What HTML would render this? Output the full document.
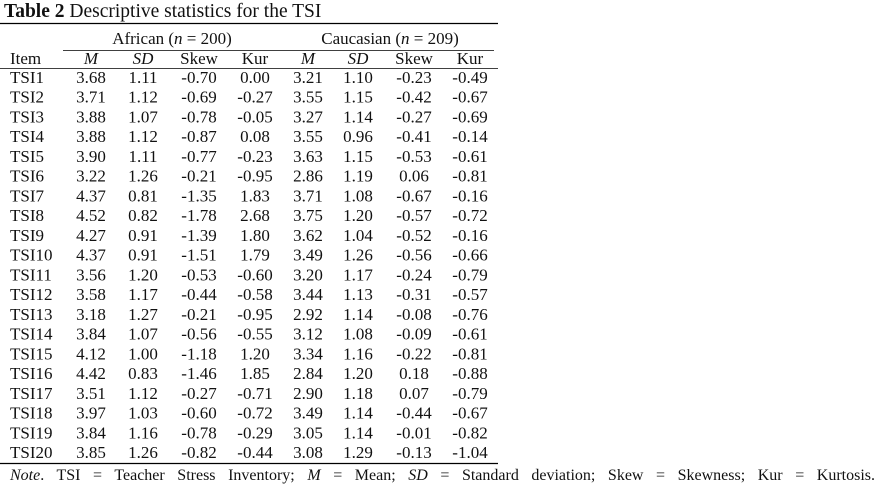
<!DOCTYPE html>
<html><head><meta charset="utf-8"><style>
html,body{margin:0;padding:0;background:#fff;}
svg{display:block;font-family:"Liberation Serif",serif;fill:#111;}
</style></head><body>
<svg width="885" height="488" viewBox="0 0 885 488" id="t">
<text x="4" y="17" font-size="19.5"><tspan font-weight="bold">Table 2</tspan> Descriptive statistics for the TSI</text>
<line x1="0" y1="23.5" x2="498" y2="23.5" stroke="#000" stroke-width="1.2"/>
<text x="172" y="44" font-size="17" text-anchor="middle">African (<tspan font-style="italic">n</tspan> = 200)</text>
<text x="390" y="44" font-size="17" text-anchor="middle">Caucasian (<tspan font-style="italic">n</tspan> = 209)</text>
<line x1="63" y1="50.5" x2="494" y2="50.5" stroke="#000" stroke-width="0.8"/>
<text x="10" y="64" font-size="17">Item</text>
<line x1="0" y1="68.5" x2="498" y2="68.5" stroke="#000" stroke-width="0.8"/>
<line x1="0" y1="463.5" x2="498" y2="463.5" stroke="#000" stroke-width="1.2"/>
<text id="note" x="10" y="480" font-size="16"><tspan font-style="italic">Note</tspan>. TSI = Teacher Stress Inventory; <tspan font-style="italic">M</tspan> = Mean; <tspan font-style="italic">SD</tspan> = Standard deviation; Skew = Skewness; Kur = Kurtosis.</text>
</svg>
<script>
const colHeaders=["M","SD","Skew","Kur","M","SD","Skew","Kur"];
const items=["TSI1","TSI2","TSI3","TSI4","TSI5","TSI6","TSI7","TSI8","TSI9","TSI10","TSI11","TSI12","TSI13","TSI14","TSI15","TSI16","TSI17","TSI18","TSI19","TSI20"];
const africanM=["3.68","3.71","3.88","3.88","3.90","3.22","4.37","4.52","4.27","4.37","3.56","3.58","3.18","3.84","4.12","4.42","3.51","3.97","3.84","3.85"];
const africanSD=["1.11","1.12","1.07","1.12","1.11","1.26","0.81","0.82","0.91","0.91","1.20","1.17","1.27","1.07","1.00","0.83","1.12","1.03","1.16","1.26"];
const africanSkew=["-0.70","-0.69","-0.78","-0.87","-0.77","-0.21","-1.35","-1.78","-1.39","-1.51","-0.53","-0.44","-0.21","-0.56","-1.18","-1.46","-0.27","-0.60","-0.78","-0.82"];
const africanKur=["0.00","-0.27","-0.05","0.08","-0.23","-0.95","1.83","2.68","1.80","1.79","-0.60","-0.58","-0.95","-0.55","1.20","1.85","-0.71","-0.72","-0.29","-0.44"];
const caucM=["3.21","3.55","3.27","3.55","3.63","2.86","3.71","3.75","3.62","3.49","3.20","3.44","2.92","3.12","3.34","2.84","2.90","3.49","3.05","3.08"];
const caucSD=["1.10","1.15","1.14","0.96","1.15","1.19","1.08","1.20","1.04","1.26","1.17","1.13","1.14","1.08","1.16","1.20","1.18","1.14","1.14","1.29"];
const caucSkew=["-0.23","-0.42","-0.27","-0.41","-0.53","0.06","-0.67","-0.57","-0.52","-0.56","-0.24","-0.31","-0.08","-0.09","-0.22","0.18","0.07","-0.44","-0.01","-0.13"];
const caucKur=["-0.49","-0.67","-0.69","-0.14","-0.61","-0.81","-0.16","-0.72","-0.16","-0.66","-0.79","-0.57","-0.76","-0.61","-0.81","-0.88","-0.79","-0.67","-0.82","-1.04"];
const cols=[africanM,africanSD,africanSkew,africanKur,caucM,caucSD,caucSkew,caucKur];
const colX=[91,143,199,255,308,358,414,470];
const NS="http://www.w3.org/2000/svg";
const svg=document.getElementById('t');
function mk(x,y,s,anchor,italic){
  const t=document.createElementNS(NS,'text');
  t.setAttribute('x',x);t.setAttribute('y',y);t.setAttribute('font-size','17');
  if(anchor)t.setAttribute('text-anchor',anchor);
  if(italic)t.setAttribute('font-style','italic');
  t.textContent=s;svg.appendChild(t);return t;
}
colHeaders.forEach((h,i)=>{
  const el=mk(colX[i],64,h,'middle',h==='M'||h==='SD');
  
  
});
items.forEach((it,r)=>{
  const y=83+r*19.74;
  const el=mk(10,y,it);
  
  
  cols.forEach((c,i)=>{
    const v=mk(colX[i],y,c[r],'middle');
    
    
  });
});
const note=document.getElementById('note');
const nat=note.getComputedTextLength();
const spaces=(note.textContent.match(/ /g)||[]).length;
const ws=Math.max(0,(865-nat)/spaces);
note.setAttribute('word-spacing',ws);
</script>
</body></html>
